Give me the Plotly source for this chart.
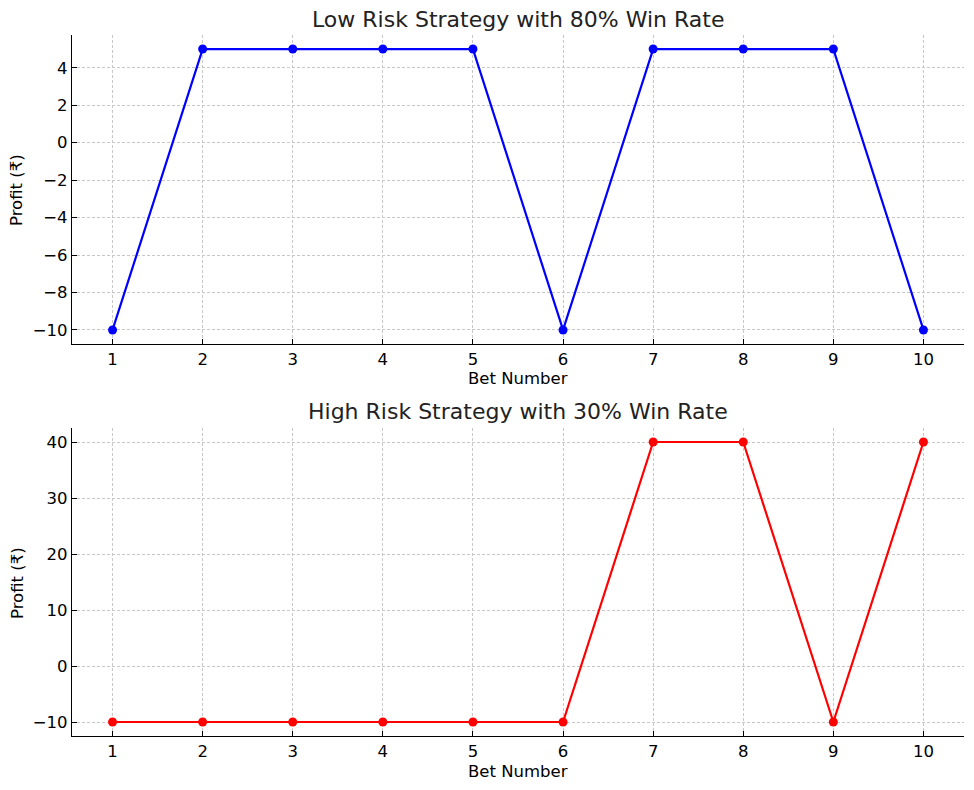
import plotly.graph_objects as go

bets = [1, 2, 3, 4, 5, 6, 7, 8, 9, 10]
low_risk_profit = [-10, 5, 5, 5, 5, -10, 5, 5, 5, -10]
high_risk_profit = [-10, -10, -10, -10, -10, -10, 40, 40, -10, 40]
titles = ["Low Risk Strategy with 80% Win Rate", "High Risk Strategy with 30% Win Rate"]
xlabel = "Bet Number"
ylabel = "Profit (₹)"

W, H = 974, 790
font = "DejaVu Sans"

def px_x(p):
    return p / W

def px_y(p):
    return 1 - p / H

fig = go.Figure()
fig.add_trace(go.Scatter(x=bets, y=low_risk_profit, mode="lines+markers",
                         line=dict(color="blue", width=2.2), marker=dict(color="blue", size=9),
                         xaxis="x", yaxis="y", showlegend=False))
fig.add_trace(go.Scatter(x=bets, y=high_risk_profit, mode="lines+markers",
                         line=dict(color="red", width=2.2), marker=dict(color="red", size=9),
                         xaxis="x2", yaxis="y2", showlegend=False))

common_x = dict(range=[0.55, 10.45], tickmode="array", tickvals=bets, ticktext=[str(b) for b in bets],
                showline=True, linecolor="black", linewidth=1.3, mirror=False,
                ticks="inside", ticklen=5, tickcolor="black", tickwidth=1,
                showgrid=True, gridcolor="#c8c8c8", griddash="3px,2px", gridwidth=1,
                zeroline=False, tickfont=dict(family=font, size=16.5, color="black"),
                domain=[px_x(72), px_x(964)])
common_y = dict(showline=True, linecolor="black", linewidth=1.3, mirror=False,
                ticks="inside", ticklen=5, tickcolor="black", tickwidth=1,
                showgrid=True, gridcolor="#c8c8c8", griddash="3px,2px", gridwidth=1,
                zeroline=False, tickfont=dict(family=font, size=16.5, color="black"))

fig.update_layout(
    width=W, height=H,
    margin=dict(l=0, r=0, t=0, b=0),
    paper_bgcolor="white", plot_bgcolor="white",
    xaxis=dict(**common_x, anchor="y"),
    yaxis=dict(**common_y, range=[-10.75, 5.75], dtick=2, tick0=0,
               domain=[px_y(344), px_y(35)], anchor="x"),
    xaxis2=dict(**common_x, anchor="y2"),
    yaxis2=dict(**common_y, range=[-12.5, 42.5], dtick=10, tick0=0,
                domain=[px_y(736), px_y(428)], anchor="x2"),
)

ann = []
for t, yy in zip(titles, (19, 411)):
    ann.append(dict(text=t, x=px_x(518), y=px_y(yy), xref="paper", yref="paper",
                    xanchor="center", yanchor="middle",
                    showarrow=False, font=dict(family=font, size=22, color="#222")))
for yy in (378, 771):
    ann.append(dict(text=xlabel, x=px_x(518), y=px_y(yy), xref="paper", yref="paper",
                    xanchor="center", yanchor="middle",
                    showarrow=False, font=dict(family=font, size=16.5, color="black")))
for yy in (190, 583):
    ann.append(dict(text=ylabel, x=px_x(17), y=px_y(yy), xref="paper", yref="paper",
                    xanchor="center", yanchor="middle",
                    showarrow=False, textangle=-90, font=dict(family=font, size=16.5, color="black")))
fig.update_layout(annotations=ann)

fig.write_html("out.html", config={"displayModeBar": False},
               post_script="document.body.style.margin='0';")
